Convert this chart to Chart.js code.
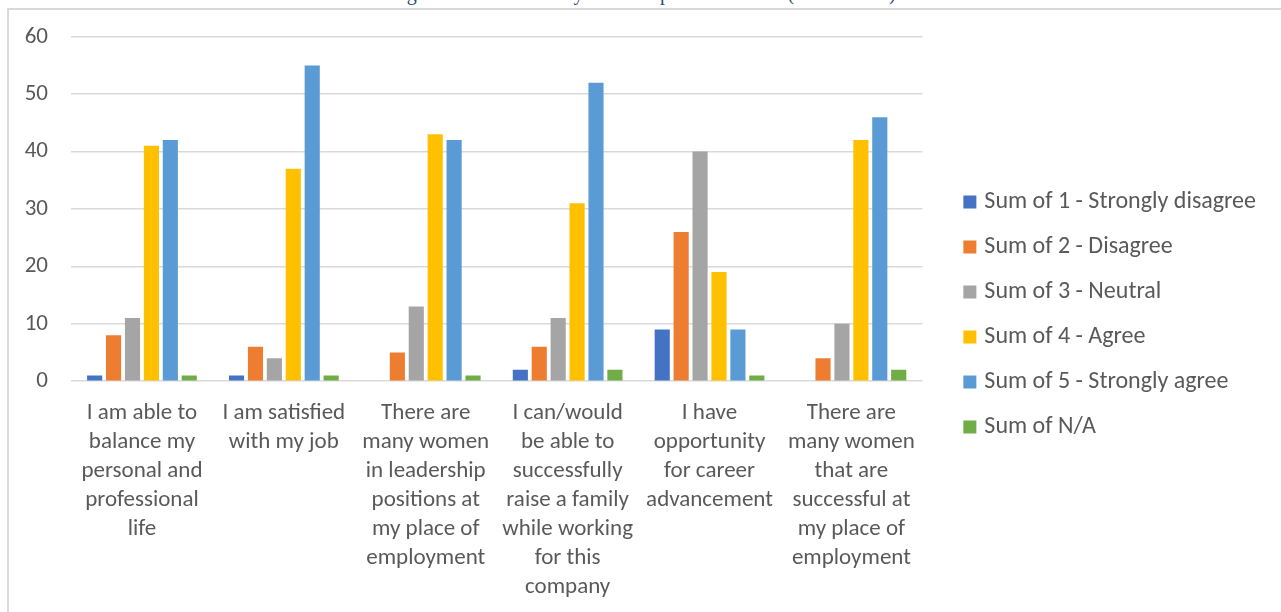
<!DOCTYPE html>
<html lang="en">
<head>
    <meta charset="UTF-8">
    <title>Workplace Survey Responses</title>
    <style>
        html, body { margin: 0; padding: 0; background: #fff; }
        body { width: 1281px; height: 612px; position: relative; overflow: hidden; }
        #chartTitle {
            position: absolute; left: -35px; top: -17px; width: 1281px; text-align: center;
            font-family: "Liberation Serif", "DejaVu Serif", serif; font-size: 20px; line-height: 20px;
            color: #1F4E79; white-space: nowrap;
        }
        #frame {
            position: absolute; left: 7px; top: 8px; width: 1300px; height: 640px;
            border: 2px solid #D9D9D9; box-sizing: border-box;
        }
        #wrap { position: absolute; left: 0; top: 0; width: 1281px; height: 612px; }
    </style>
</head>
<body>
    <div id="chartTitle">Women's Agreement with Survey Item Responses at Work (Total Count)</div>
    <div id="frame"></div>
    <div id="wrap">
        <canvas id="myChart"></canvas>
    </div>

    <script src="https://cdn.jsdelivr.net/npm/chart.js"></script>
    <script>
        // statements (wrapped onto lines the same way the axis shows them)
        const categories = [
            ['I am able to', 'balance my', 'personal and', 'professional', 'life'],
            ['I am satisfied', 'with my job'],
            ['There are', 'many women', 'in leadership', 'positions at', 'my place of', 'employment'],
            ['I can/would', 'be able to', 'successfully', 'raise a family', 'while working', 'for this', 'company'],
            ['I have', 'opportunity', 'for career', 'advancement'],
            ['There are', 'many women', 'that are', 'successful at', 'my place of', 'employment']
        ];

        const seriesNames = [
            'Sum of 1 - Strongly disagree',
            'Sum of 2 - Disagree',
            'Sum of 3 - Neutral',
            'Sum of 4 - Agree',
            'Sum of 5 - Strongly agree',
            'Sum of N/A'
        ];

        const stronglyDisagree = [1, 1, 0, 2, 9, 0];
        const disagree         = [8, 6, 5, 6, 26, 4];
        const neutral          = [11, 4, 13, 11, 40, 10];
        const agree            = [41, 37, 43, 31, 19, 42];
        const stronglyAgree    = [42, 55, 42, 52, 9, 46];
        const notApplicable    = [1, 1, 1, 2, 1, 2];

        const yTicks = [0, 10, 20, 30, 40, 50, 60];

        const colors = ['#4472C4', '#ED7D31', '#A5A5A5', '#FFC000', '#5B9BD5', '#70AD47'];
        const seriesValues = [stronglyDisagree, disagree, neutral, agree, stronglyAgree, notApplicable];

        const textColor = '#595959';
        const fontFamily = 'Carlito, Lato, "Open Sans", sans-serif';

        const ctx = document.getElementById('myChart').getContext('2d');
        const myChart = new Chart(ctx, {
            type: 'bar',
            data: {
                labels: categories,
                datasets: seriesValues.map((vals, i) => ({
                    label: seriesNames[i],
                    data: vals,
                    backgroundColor: colors[i],
                    borderWidth: 0,
                    categoryPercentage: 0.8,
                    barPercentage: 0.8
                }))
            },
            options: {
                responsive: true,
                maintainAspectRatio: false,
                animation: false,
                layout: {
                    // bottom padding lifts the legend; the x axis gives it back below
                    padding: { left: 23, top: 32, right: 15, bottom: 15 }
                },
                plugins: {
                    tooltip: { enabled: false },
                    legend: {
                        position: 'right',
                        maxWidth: 420,
                        labels: {
                            color: textColor,
                            font: { family: fontFamily, size: 24 },
                            usePointStyle: true,
                            pointStyle: 'rect',
                            boxWidth: 5,
                            boxHeight: 13,
                            padding: 21
                        }
                    }
                },
                scales: {
                    x: {
                        afterFit: axis => { axis.height -= 15; },
                        grid: { display: false },
                        border: { display: false },
                        ticks: {
                            color: textColor,
                            font: { family: fontFamily, size: 23, lineHeight: 1.26 },
                            maxRotation: 0,
                            autoSkip: false,
                            padding: 10
                        }
                    },
                    y: {
                        min: yTicks[0],
                        max: yTicks[yTicks.length - 1],
                        afterBuildTicks: axis => { axis.ticks = yTicks.map(v => ({ value: v })); },
                        afterFit: axis => { axis.width = 48; },
                        grid: { color: '#D9D9D9', lineWidth: 1.5, drawTicks: false },
                        border: { display: false },
                        ticks: {
                            color: textColor,
                            font: { family: fontFamily, size: 23 },
                            padding: 23
                        }
                    },
                    // empty strip between the plot and the legend
                    gap: {
                        position: 'right',
                        min: 0,
                        max: 1,
                        grid: { display: false },
                        border: { display: false },
                        ticks: { display: false },
                        afterFit: axis => { axis.width = 24; }
                    }
                }
            }
        });
    </script>
</body>
</html>
